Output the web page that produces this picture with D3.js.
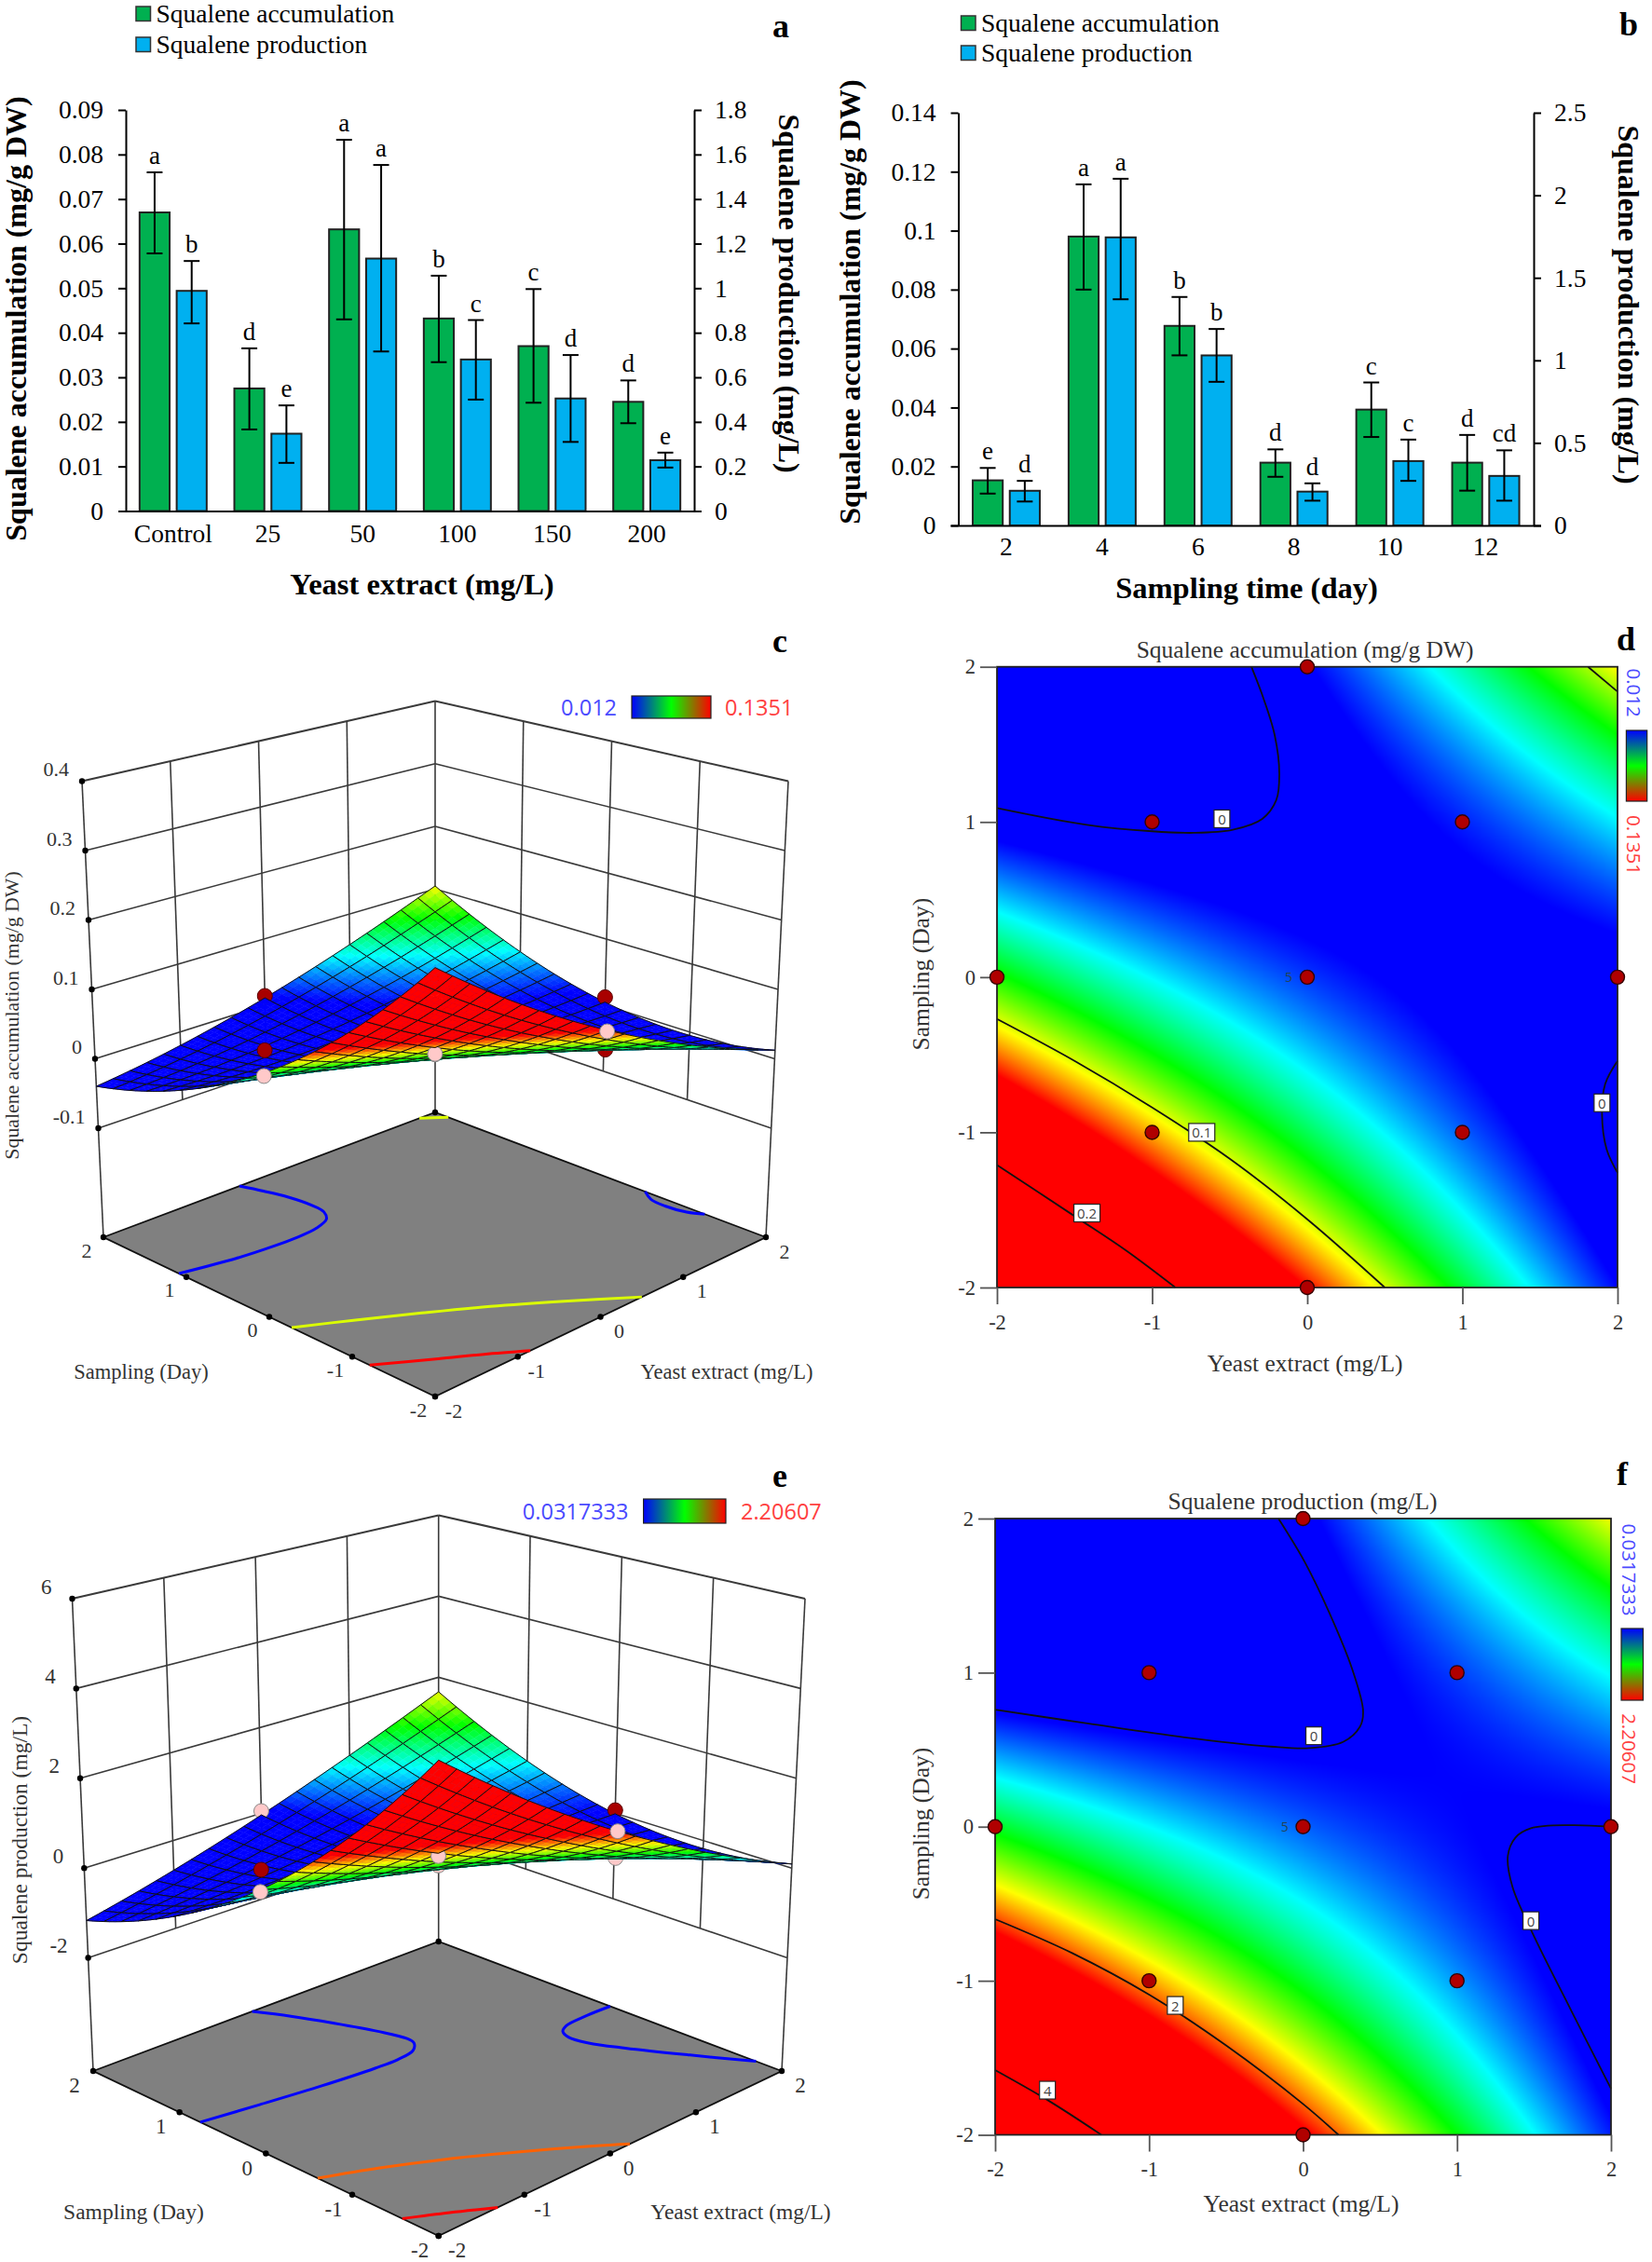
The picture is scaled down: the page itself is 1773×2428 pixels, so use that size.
<!DOCTYPE html>
<html><head><meta charset="utf-8">
<script src="https://cdn.jsdelivr.net/npm/d3@7"></script>
<style>html,body{margin:0;padding:0;background:#fff}svg{display:block}</style>
</head><body><svg id="c" width="1773" height="2428" xmlns="http://www.w3.org/2000/svg"></svg>
<script>
// ---------- panel a ----------
const categoriesA=["Control","25","50","100","150","200"];
const accA=[0.067,0.0275,0.0632,0.0432,0.037,0.0245];
const accAHi=[0.076,0.0365,0.0833,0.0528,0.0498,0.0293];
const accALo=[0.0578,0.0183,0.043,0.0334,0.0243,0.0197];
const accALetters=["a","d","a","b","c","d"];
const prodA=[0.988,0.347,1.133,0.68,0.505,0.228];
const prodAHi=[1.122,0.474,1.553,0.857,0.70,0.262];
const prodALo=[0.842,0.216,0.716,0.50,0.31,0.195];
const prodALetters=["b","e","a","c","d","e"];
const ticksALeft=[0,0.01,0.02,0.03,0.04,0.05,0.06,0.07,0.08,0.09];
const ticksARight=[0,0.2,0.4,0.6,0.8,1,1.2,1.4,1.6,1.8];
// ---------- panel b ----------
const categoriesB=["2","4","6","8","10","12"];
const accB=[0.0153,0.098,0.0677,0.0213,0.0393,0.0213];
const accBHi=[0.0195,0.1157,0.0775,0.0258,0.0485,0.0307];
const accBLo=[0.0108,0.08,0.0577,0.0165,0.03,0.0118];
const accBLetters=["e","a","b","d","c","d"];
const prodB=[0.21,1.745,1.03,0.205,0.39,0.30];
const prodBHi=[0.27,2.1,1.19,0.255,0.52,0.455];
const prodBLo=[0.145,1.37,0.87,0.15,0.27,0.15];
const prodBLetters=["d","a","b","d","c","cd"];
const ticksBLeft=[0,0.02,0.04,0.06,0.08,0.1,0.12,0.14];
const ticksBRight=[0,0.5,1,1.5,2,2.5];
const seriesNames=["Squalene accumulation","Squalene production"];
const seriesColors=["#00b050","#00b0f0"];
// ---------- response surfaces; rows v=2..-2, columns u=-2..2 (step 0.5) ----------
const codedLevels=[-2,-1,0,1,2];
const accumulationGrid=[
[-.0396,-.031,-.0197,-.0057,.011,.0304,.0525,.0773,.1048],
[-.0208,-.019,-.0144,-.0072,.0028,.0155,.0308,.0489,.0696],
[.0048,-.0001,-.0023,-.0018,.0014,.0073,.0159,.0272,.0412],
[.0371,.0255,.0165,.0103,.0067,.0059,.0077,.0123,.0195],
[.0762,.0578,.0421,.0291,.0188,.0112,.0063,.0041,.0046],
[.122,.0969,.0744,.0547,.0376,.0233,.0116,.0027,-.0036],
[.1746,.1427,.1135,.087,.0632,.0421,.0237,.008,-.005],
[.2339,.1953,.1593,.1261,.0955,.0677,.0425,.0201,.0003],
[.30,.2546,.2119,.1719,.1346,.1,.0681,.0389,.0124]];
const productionGrid=[
[-1.169,-.939,-.674,-.375,-.04,.329,.732,1.171,1.643],
[-.78,-.671,-.527,-.349,-.135,.113,.395,.713,1.064],
[-.281,-.293,-.27,-.213,-.12,.007,.168,.365,.595],
[.328,.196,.097,.034,.005,.011,.051,.127,.236],
[1.047,.794,.574,.39,.24,.125,.044,-.002,-.013],
[1.876,1.502,1.161,.856,.585,.349,.147,-.02,-.152],
[2.815,2.32,1.858,1.432,1.04,.683,.36,.073,-.181],
[3.864,3.248,2.665,2.118,1.605,1.127,.683,.275,-.1],
[5.023,4.286,3.582,2.914,2.28,1.681,1.116,.587,.091]];
const contoursAcc=[
{level:0,pts:[[-2,1.09],[-1.41,.98],[-1,.94],[-.73,.93],[-.48,.95],[-.29,1.02],[-.2,1.14],[-.18,1.31],[-.21,1.56],[-.28,1.79],[-.36,2]]},
{level:0,pts:[[2,-.54],[1.92,-.69],[1.9,-.88],[1.93,-1.11],[2,-1.26]]},
{level:.1,pts:[[-2,-.27],[-1.5,-.54],[-1,-.84],[-.5,-1.17],[0,-1.56],[.5,-2]]},
{level:.2,pts:[[-2,-1.21],[-1.5,-1.54],[-1.17,-1.76],[-.85,-2]]},
{level:.1,pts:[[1.81,2],[2,1.84]]}];
const contourLabelsAcc=[["0",-.55,1.02],["0",1.9,-.81],["0.1",-.68,-1],["0.2",-1.42,-1.52]];
const contoursProd=[
{level:0,pts:[[-2,.76],[-1.4,.67],[-.77,.58],[-.21,.52],[.04,.51],[.26,.55],[.37,.65],[.39,.75],[.32,1.02],[.17,1.39],[.01,1.72],[-.16,2]]},
{level:0,pts:[[2,0],[1.74,.01],[1.48,-.01],[1.38,-.07],[1.33,-.19],[1.36,-.39],[1.49,-.69],[1.74,-1.19],[2,-1.7]]},
{level:2,pts:[[-2,-.6],[-1.5,-.82],[-1,-1.09],[-.5,-1.42],[0,-1.8],[.23,-2]]},
{level:4,pts:[[-2,-1.58],[-1.65,-1.78],[-1.31,-2]]}];
const contourLabelsProd=[["0",.07,.59],["0",1.48,-.61],["2",-.83,-1.16],["4",-1.66,-1.71]];
// design points: u,v, measured response, above(true)/below(false) the surface
const designPoints2D=[[-1,1],[1,1],[-1,-1],[1,-1],[0,2],[0,-2],[-2,0],[2,0],[0,0]];
const pointsAcc=[[0,2,.014,true],[2,0,.012,true],[-1,1,.021,true],[1,-1,.022,true],[-2,0,.072,false],[0,-2,.133,false],[0,0,.018,false],[-1,-1,.105,false],[1,1,.012,false]];
const pointsProd=[[0,2,.05,false],[2,0,.07,true],[-1,1,.1,true],[1,-1,.36,false],[-2,0,1.0,false],[0,-2,2.28,false],[0,0,.24,false],[-1,-1,1.8,false],[1,1,.1,false]];
const ticksZAcc=[-.1,0,.1,.2,.3,.4];
const ticksZProd=[-2,0,2,4,6];
const rangeAcc=[0.012,0.1351], rangeProd=[0.0317333,2.20607];
const rangeLabelsAcc=["0.012","0.1351"], rangeLabelsProd=["0.0317333","2.20607"];
const rampColors=["#0000ff","#00ffff","#00ff00","#ffff00","#ff0000"];

const SERIF='"Liberation Serif","Times New Roman",serif', SANS='"Open Sans","Noto Sans",sans-serif';
const svg=d3.select("#c");
const defs=svg.append("defs");
[["gradH",1,0],["gradV",0,1]].forEach(([id,x2,y2])=>{
  const g=defs.append("linearGradient").attr("id",id).attr("x1",0).attr("y1",0).attr("x2",x2).attr("y2",y2);
  ["#0000ff","#00ff00","#ff0000"].forEach((c,i)=>g.append("stop").attr("offset",i/2).attr("stop-color",c));
});
function txt(g,s,x,y,o={}){
  const t=g.append("text").attr("x",x).attr("y",y).attr("font-family",o.family||SERIF).attr("font-size",o.size||24)
    .attr("fill",o.fill||"#000").attr("text-anchor",o.anchor||"middle").text(s);
  if(o.weight)t.attr("font-weight",o.weight);
  if(o.middle)t.attr("dominant-baseline","central");
  if(o.rotate!==undefined)t.attr("transform",`rotate(${o.rotate},${x},${y})`);
  return t;
}
// ---------- bar panels ----------
function barPanel(p){
  const g=svg.append("g");
  const x0=d3.scaleBand().domain(p.cats).range([p.l,p.r]);
  const x1=d3.scaleBand().domain(["acc","prod"]).range([-36,36]).paddingInner(.19);
  const yL=d3.scaleLinear().domain([p.tL[0],p.tL[p.tL.length-1]]).range([p.b,p.t]);
  const yR=d3.scaleLinear().domain([p.tR[0],p.tR[p.tR.length-1]]).range([p.b,p.t]);
  const series=[{k:"acc",y:yL,v:p.acc,hi:p.accHi,lo:p.accLo,let:p.accLet,c:seriesColors[0]},
                {k:"prod",y:yR,v:p.prod,hi:p.prodHi,lo:p.prodLo,let:p.prodLet,c:seriesColors[1]}];
  series.forEach(s=>{
    p.cats.forEach((c,i)=>{
      const cx=x0(c)+x0.bandwidth()/2, bx=cx+x1(s.k), w=x1.bandwidth(), mx=bx+w/2;
      g.append("rect").attr("x",bx).attr("y",s.y(s.v[i])).attr("width",w).attr("height",p.b-s.y(s.v[i]))
        .attr("fill",s.c).attr("stroke","#222").attr("stroke-width",2);
      const e=g.append("g").attr("stroke","#000").attr("stroke-width",2);
      e.append("line").attr("x1",mx).attr("x2",mx).attr("y1",s.y(s.lo[i])).attr("y2",s.y(s.hi[i]));
      [s.lo[i],s.hi[i]].forEach(v=>e.append("line").attr("x1",mx-8.5).attr("x2",mx+8.5).attr("y1",s.y(v)).attr("y2",s.y(v)));
      txt(g,s.let[i],mx,s.y(s.hi[i])-9,{size:27});
    });
  });
  const fmt=d=>String(d);
  const axL=g.append("g").attr("transform",`translate(${p.l},0)`).call(d3.axisLeft(yL).tickValues(p.tL).tickFormat(fmt).tickSize(8).tickPadding(16).tickSizeOuter(0));
  const axR=g.append("g").attr("transform",`translate(${p.r},0)`).call(d3.axisRight(yR).tickValues(p.tR).tickFormat(fmt).tickSize(8).tickPadding(14).tickSizeOuter(0));
  const axX=g.append("g").attr("transform",`translate(0,${p.b})`).call(d3.axisBottom(x0).tickSize(0).tickPadding(p.xPad).tickSizeOuter(0));
  [axL,axR,axX].forEach(a=>{a.attr("font-family",SERIF).attr("font-size",27.5);a.selectAll("text").attr("fill","#000");
    a.selectAll("path,line").attr("stroke","#000").attr("stroke-width",2);});
  axX.select("path").attr("d",`M${p.l-8},0.5H${p.r+8}`);
  txt(g,p.xTitle,p.xTitleX,p.xTitleY,{size:32.5,weight:"bold"});
  txt(g,"Squalene accumulation (mg/g DW)",p.lt[0],p.lt[1],{size:32,weight:"bold",rotate:-90});
  txt(g,"Squalene production (mg/L)",p.rt[0],p.rt[1],{size:32,weight:"bold",rotate:90});
  seriesNames.forEach((n,i)=>{
    g.append("rect").attr("x",p.lg[0]).attr("y",p.lg[1]+i*p.lg[2]).attr("width",15.5).attr("height",15.5)
      .attr("fill",seriesColors[i]).attr("stroke","#333").attr("stroke-width",1.5);
    txt(g,n,p.lg[0]+21.5,p.lg[1]+i*p.lg[2]+17,{size:27.5,anchor:"start"});
  });
}
barPanel({cats:categoriesA,acc:accA,accHi:accAHi,accLo:accALo,accLet:accALetters,prod:prodA,prodHi:prodAHi,prodLo:prodALo,prodLet:prodALetters,
  tL:ticksALeft,tR:ticksARight,l:135,r:745,t:118,b:548.5,xPad:14,xTitle:"Yeast extract (mg/L)",xTitleX:453,xTitleY:638,lt:[28,342],rt:[836,315],lg:[146,7,33]});
barPanel({cats:categoriesB,acc:accB,accHi:accBHi,accLo:accBLo,accLet:accBLetters,prod:prodB,prodHi:prodBHi,prodLo:prodBLo,prodLet:prodBLetters,
  tL:ticksBLeft,tR:ticksBRight,l:1028.5,r:1646,t:121,b:564,xPad:12,xTitle:"Sampling time (day)",xTitleX:1338,xTitleY:642,lt:[923,324],rt:[1737,327],lg:[1031.5,17,32]});

// ---------- grid sampling (Catmull-Rom through table cells) ----------
function s1(arr,pos){
  const n=arr.length, i=Math.max(0,Math.min(n-2,Math.floor(pos))), t=pos-i;
  const a=k=>k<0?3*arr[0]-3*arr[1]+arr[2]:k>=n?3*arr[n-1]-3*arr[n-2]+arr[n-3]:arr[k];
  const p0=a(i-1),p1=a(i),p2=a(i+1),p3=a(i+2);
  return .5*(2*p1+(p2-p0)*t+(2*p0-5*p1+4*p2-p3)*t*t+(3*p1-p0-3*p2+p3)*t*t*t);
}
const colPos=d3.scaleLinear([-2,2],[0,8]), rowPos=d3.scaleLinear([2,-2],[0,8]);
function sampleZ(grid,u,v){
  const up=colPos(u), vp=rowPos(v), r=Math.max(0,Math.min(7,Math.floor(vp)));
  const col=[]; for(let k=r-1;k<=r+2;k++){ if(k>=0&&k<=8) col.push(s1(grid[k],up)); }
  const full=col.slice();
  if(r-1<0) full.unshift(3*col[0]-3*col[1]+col[2]);
  if(full.length<4) full.push(3*full[2]-3*full[1]+full[0]);
  return s1(full,vp-r+1);
}
function ramp(range){
  const [a,b]=range;
  return d3.scaleLinear().domain(d3.range(5).map(i=>a+(b-a)*i/4)).range(rampColors).clamp(true);
}
// ---------- 3D surface panels ----------
function surfacePanel(p){
  const g=svg.append("g");
  const S=d3.scaleLinear([-2,2],[0,1]);
  const Zf=d3.scaleLinear([p.zFloor,p.zTop],[0,1]);
  const bil=(q,s,t)=>[0,1].map(k=>q.F[k]*(1-s)*(1-t)+q.R[k]*s*(1-t)+q.L[k]*(1-s)*t+q.B[k]*s*t);
  const P=(u,v,z)=>{const a=bil(p.floor,S(u),S(v)),b=bil(p.top,S(u),S(v)),f=Zf(z);return [a[0]+(b[0]-a[0])*f,a[1]+(b[1]-a[1])*f];};
  const color=ramp(p.range), lo=p.zTicks[0], hi=p.zTicks[p.zTicks.length-1], zF=p.zFloor;
  const wall=g.append("g").attr("stroke","#3a3a3a").attr("fill","none");
  const seg=(a,b,w)=>wall.append("line").attr("x1",a[0]).attr("y1",a[1]).attr("x2",b[0]).attr("y2",b[1]).attr("stroke-width",w||1.6);
  codedLevels.slice(1,4).forEach(c=>{seg(P(c,2,hi),P(c,2,lo));seg(P(2,c,hi),P(2,c,lo));});
  p.zTicks.forEach(z=>{const w=z===hi?2:1.6;seg(P(-2,2,z),P(2,2,z),w);seg(P(2,2,z),P(2,-2,z),w);});
  seg(P(-2,2,zF),P(-2,2,hi));seg(P(2,2,zF),P(2,2,hi));seg(P(2,-2,zF),P(2,-2,hi));
  // floor
  const poly=d3.line();
  g.append("path").attr("d",poly([P(-2,2,zF),P(2,2,zF),P(2,-2,zF),P(-2,-2,zF)])+"Z").attr("fill","#808080").attr("stroke","#111").attr("stroke-width",1.8);
  const floorLine=d3.line().x(d=>P(d[0],d[1],zF)[0]).y(d=>P(d[0],d[1],zF)[1]).curve(d3.curveCatmullRom);
  p.contours.forEach(c=>g.append("path").attr("d",floorLine(c.pts)).attr("fill","none").attr("stroke",color(c.level)).attr("stroke-width",3));
  // ticks and labels
  const dot=(q,r)=>g.append("circle").attr("cx",q[0]).attr("cy",q[1]).attr("r",r||3.2).attr("fill","#000");
  const tk={size:p.tickSize,fill:"#333",middle:true};
  p.zTicks.forEach(z=>{const q=P(-2,2,z);dot(q);txt(g,String(z),q[0]-p.zLab[0],q[1]-p.zLab[1],{...tk,anchor:"end"});});
  codedLevels.forEach(c=>{
    const a=P(-2,c,zF),b=P(c,-2,zF);
    dot(a);dot(b);
    txt(g,String(c),a[0]-p.fLabL[0],a[1]+p.fLabL[1],tk);
    txt(g,String(c),b[0]+p.fLabR[0],b[1]+p.fLabR[1],tk);
  });
  dot(P(2,2,zF));
  // surface: painter's order from the far corner (u=2,v=2) to the near one
  const N=p.mesh, D=3, step=4/N;
  const items=[];
  for(let i=0;i<N;i++)for(let j=0;j<N;j++){
    const u0=-2+i*step,v0=-2+j*step;
    items.push({d:S(u0+step/2)+S(v0+step/2),cell:[u0,v0]});
  }
  p.points.forEach(pt=>items.push({d:S(pt[0])+S(pt[1]),pt}));
  items.sort((a,b)=>b.d-a.d);
  const surf=g.append("g");
  const zAt=(u,v)=>sampleZ(p.grid,u,v);
  items.forEach(it=>{
    if(it.pt){
      const q=P(it.pt[0],it.pt[1],it.pt[2]);
      surf.append("circle").attr("cx",q[0]).attr("cy",q[1]).attr("r",8)
        .attr("fill",it.pt[3]?"#a80000":"#ffc9c9").attr("stroke",it.pt[3]?"#5a0000":"#888").attr("stroke-width",1);
      return;
    }
    const [u0,v0]=it.cell, h=step/D;
    for(let a=D-1;a>=0;a--)for(let b=D-1;b>=0;b--){
      const u=u0+a*h,v=v0+b*h;
      const zs=[zAt(u,v),zAt(u+h,v),zAt(u+h,v+h),zAt(u,v+h)];
      const c=color(d3.mean(zs));
      surf.append("path").attr("d",poly([P(u,v,zs[0]),P(u+h,v,zs[1]),P(u+h,v+h,zs[2]),P(u,v+h,zs[3])])+"Z").attr("fill",c).attr("stroke",c).attr("stroke-width",.5);
    }
    const edge=[];
    for(let a=0;a<=D;a++)edge.push([u0+a*h,v0]);
    for(let a=1;a<=D;a++)edge.push([u0+step,v0+a*h]);
    for(let a=1;a<=D;a++)edge.push([u0+step-a*h,v0+step]);
    for(let a=1;a<D;a++)edge.push([u0,v0+step-a*h]);
    surf.append("path").attr("d",poly(edge.map(d=>P(d[0],d[1],zAt(d[0],d[1]))))+"Z").attr("fill","none").attr("stroke","#111").attr("stroke-width",1);
  });
  // titles and colour key
  txt(g,p.zTitle[0],p.zTitle[1],p.zTitle[2],{size:p.zTitleSize,fill:"#333",rotate:-90});
  txt(g,"Sampling (Day)",p.tSamp[0],p.tSamp[1],{size:p.titleSize,fill:"#333",middle:true});
  txt(g,"Yeast extract (mg/L)",p.tYeast[0],p.tYeast[1],{size:p.titleSize,fill:"#333",middle:true});
  const k=p.key;
  g.append("rect").attr("x",k[0]).attr("y",k[1]).attr("width",k[2]).attr("height",k[3]).attr("fill","url(#gradH)").attr("stroke","#222").attr("stroke-width",1.2);
  txt(g,p.rangeLabels[0],k[4],k[1]+k[3]/2,{family:SANS,size:23.5,fill:"#4a4aff",anchor:"end",middle:true});
  txt(g,p.rangeLabels[1],k[5],k[1]+k[3]/2,{family:SANS,size:23.5,fill:"#ff4040",anchor:"start",middle:true});
}
surfacePanel({grid:accumulationGrid,contours:contoursAcc,points:pointsAcc,range:rangeAcc,rangeLabels:rangeLabelsAcc,zTicks:ticksZAcc,zFloor:-.257,zTop:.4,mesh:20,
  floor:{F:[467,1499],R:[822,1328],L:[111,1328],B:[467,1194]},top:{F:[467,956],R:[846,838.5],L:[88,838.5],B:[467,752.6]},
  zLab:[14,13],fLabL:[18,14],fLabR:[20,15],tickSize:22,titleSize:22.5,zTitleSize:21.8,zTitle:["Squalene accumulation (mg/g DW)",20,1090],tSamp:[151.5,1472],tYeast:[780,1472],key:[678,747,85,24,662,778]});
surfacePanel({grid:productionGrid,contours:contoursProd,points:pointsProd,range:rangeProd,rangeLabels:rangeLabelsProd,zTicks:ticksZProd,zFloor:-4.52,zTop:6,mesh:20,
  floor:{F:[470.7,2400],R:[839,2223],L:[100,2223],B:[470.7,2084]},top:{F:[470.7,1837],R:[864,1716],L:[77.5,1716],B:[470.7,1626.4]},
  zLab:[22,13],fLabL:[20,15.5],fLabR:[20,15.5],tickSize:23,titleSize:23.5,zTitleSize:23.5,zTitle:["Squalene production (mg/L)",29,1975],tSamp:[143.5,2374],tYeast:[795,2374],key:[690.6,1609,88.4,26,674.5,795]});

// ---------- 2D contour panels ----------
function contourPanel(p){
  const g=svg.append("g");
  const x=d3.scaleLinear([-2,2],[p.l,p.r]), y=d3.scaleLinear([-2,2],[p.b,p.t]);
  const W=Math.round(p.r-p.l),H=Math.round(p.b-p.t);
  const cv=document.createElement("canvas");cv.width=W;cv.height=H;
  const ctx=cv.getContext("2d"),im=ctx.createImageData(W,H),color=ramp(p.range);
  const ux=d3.scaleLinear([0,W],[-2,2]),vy=d3.scaleLinear([0,H],[2,-2]);
  for(let j=0;j<H;j++)for(let i=0;i<W;i++){
    const c=d3.rgb(color(sampleZ(p.grid,ux(i+.5),vy(j+.5)))),o=(j*W+i)*4;
    im.data[o]=c.r;im.data[o+1]=c.g;im.data[o+2]=c.b;im.data[o+3]=255;
  }
  ctx.putImageData(im,0,0);
  g.append("image").attr("x",p.l).attr("y",p.t).attr("width",p.r-p.l).attr("height",p.b-p.t).attr("preserveAspectRatio","none").attr("href",cv.toDataURL());
  const line=d3.line().x(d=>x(d[0])).y(d=>y(d[1])).curve(d3.curveCatmullRom);
  p.contours.forEach(c=>g.append("path").attr("d",line(c.pts)).attr("fill","none").attr("stroke","#111").attr("stroke-width",1.8));
  g.append("rect").attr("x",p.l).attr("y",p.t).attr("width",p.r-p.l).attr("height",p.b-p.t).attr("fill","none").attr("stroke","#222").attr("stroke-width",1.8);
  const fmt=d=>String(d);
  const ay=g.append("g").attr("transform",`translate(${p.l},0)`).call(d3.axisLeft(y).tickValues(codedLevels).tickFormat(fmt).tickSize(18).tickPadding(5).tickSizeOuter(0));
  const ax=g.append("g").attr("transform",`translate(0,${p.b})`).call(d3.axisBottom(x).tickValues(codedLevels).tickFormat(fmt).tickSize(18).tickPadding(11).tickSizeOuter(0));
  [ay,ax].forEach(a=>{a.attr("font-family",SERIF).attr("font-size",22.5);a.selectAll("text").attr("fill","#333");a.selectAll("line").attr("stroke","#555").attr("stroke-width",1.8);a.select("path").remove();});
  p.labels.forEach(([s,u,v])=>{
    const w=s.length>1?28:17;
    g.append("rect").attr("x",x(u)-w/2).attr("y",y(v)-9.5).attr("width",w).attr("height",19).attr("fill","#fff").attr("stroke","#222").attr("stroke-width",1.2);
    txt(g,s,x(u),y(v),{family:SANS,size:15,fill:"#444",middle:true});
  });
  txt(g,"5",x(-.12),y(0),{family:SANS,size:14,fill:"#245",middle:true});
  designPoints2D.forEach(d=>g.append("circle").attr("cx",x(d[0])).attr("cy",y(d[1])).attr("r",7.5).attr("fill","#b00000").attr("stroke","#300").attr("stroke-width",1.4));
  txt(g,p.title,p.titleP[0],p.titleP[1],{size:25.5,fill:"#333",middle:true});
  txt(g,"Yeast extract (mg/L)",p.xT[0],p.xT[1],{size:25.5,fill:"#333",middle:true});
  txt(g,"Sampling (Day)",p.yT[0],p.yT[1],{size:25.5,fill:"#333",rotate:-90,middle:true});
  const k=p.key;
  g.append("rect").attr("x",k[0]).attr("y",k[1]).attr("width",k[2]).attr("height",k[3]).attr("fill","url(#gradV)").attr("stroke","#222").attr("stroke-width",1.2);
  txt(g,p.rangeLabels[0],p.rl[0],p.rl[1],{family:SANS,size:20.5,fill:"#4a4aff",rotate:90,middle:true});
  txt(g,p.rangeLabels[1],p.rl[0],p.rl[2],{family:SANS,size:20.5,fill:"#ff4040",rotate:90,middle:true});
}
contourPanel({grid:accumulationGrid,contours:contoursAcc,labels:contourLabelsAcc,range:rangeAcc,rangeLabels:rangeLabelsAcc,l:1070,r:1736,t:715.7,b:1382,
  title:"Squalene accumulation (mg/g DW)",titleP:[1400.6,697.5],xT:[1400.6,1463.5],yT:[988.5,1045.6],key:[1745.4,784,22.3,76],rl:[1754,743.6,907]});
contourPanel({grid:productionGrid,contours:contoursProd,labels:contourLabelsProd,range:rangeProd,rangeLabels:rangeLabelsProd,l:1068,r:1729,t:1630,b:2291.5,
  title:"Squalene production (mg/L)",titleP:[1398,1611.5],xT:[1396.5,2365.6],yT:[988,1957.5],key:[1740,1748,23.5,77],rl:[1749,1685,1877]});
// panel letters
[["a",838,40],["b",1748,38],["c",837,700],["d",1745,698],["e",837,1596],["f",1741,1594]].forEach(([s,x,y])=>txt(svg,s,x,y,{size:36,weight:"bold"}));
</script></body></html>
